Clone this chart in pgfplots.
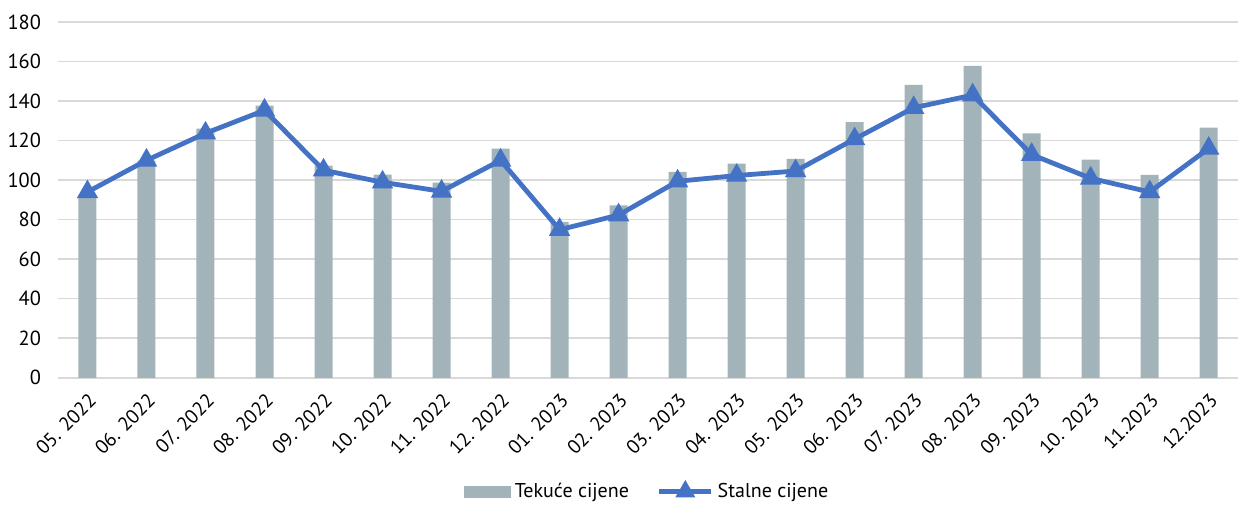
\documentclass[border=0pt]{standalone}
\usepackage{pgfplots}
\pgfplotsset{compat=1.18}
\usepackage{fontspec}
\setmainfont{PT Sans}
\definecolor{barc}{RGB}{162,180,186}
\definecolor{linec}{RGB}{68,114,196}
\definecolor{gridc}{RGB}{217,217,217}
\begin{document}
\begin{tikzpicture}
\begin{axis}[
  scale only axis, width=590.5pt, height=178pt,
  xmin=-0.5, xmax=19.5, ymin=0, ymax=180,
  ytick={0,20,...,180},
  xtick={0,...,19},
  xticklabels={05. 2022,06. 2022,07. 2022,08. 2022,09. 2022,10. 2022,11. 2022,12. 2022,01. 2023,02. 2023,03. 2023,04. 2023,05. 2023,06. 2023,07. 2023,08. 2023,09. 2023,10. 2023,11.2023,12.2023},
  x tick label style={rotate=45, anchor=north east, font=\fontsize{9.8}{11}\selectfont, inner sep=1.5pt},
  xticklabel shift=5pt,
  y tick label style={font=\fontsize{10.2}{12}\selectfont, xshift=-5pt},
  /pgf/number format/assume math mode=true,
  axis line style={draw=none},
  major tick length=0pt,
  ymajorgrids, grid style={gridc, line width=0.8pt},
  legend style={at={(0.5,-0.32)}, anchor=center, draw=none, legend columns=2, inner sep=1pt,
    font=\fontsize{10}{12}\selectfont, /tikz/every even column/.append style={column sep=12pt}},
]
\coordinate (topc) at (rel axis cs:0,1);
\coordinate (leftc) at (rel axis cs:0,0);
\addplot[ybar, bar width=9pt, fill=barc, draw=none,
  legend image code/.code={\fill[barc] (0pt,-3pt) rectangle (23.5pt,3pt);}]
  coordinates {(0,92.6) (1,109.9) (2,126.1) (3,137.7) (4,107.3) (5,102.8) (6,98.7) (7,115.9) (8,78.9) (9,87.2)
  (10,104.1) (11,108.3) (12,110.7) (13,129.3) (14,148.2) (15,157.8) (16,123.7) (17,110.4) (18,102.6) (19,126.6)};
\addlegendentry{Tekuće cijene}
\addplot[linec, line width=2.4pt, mark=triangle*, mark size=3.8pt, mark options={solid},
  legend image code/.code={\draw[linec, line width=2.4pt] (0pt,0pt) -- (26pt,0pt); \fill[linec] (13pt,0pt) +(90:3.4pt) -- +(210:3.4pt) -- +(330:3.4pt) -- cycle;}]
  coordinates {(0,94) (1,110) (2,123.7) (3,135.3) (4,105) (5,98.9) (6,94.3) (7,110) (8,74.9) (9,82.3)
  (10,99.4) (11,102.3) (12,104.6) (13,120.8) (14,136.6) (15,143) (16,112.9) (17,100.9) (18,94) (19,116)};
\addlegendentry{Stalne cijene}
\end{axis}
\path (topc) ++(0pt,11pt);
\path (leftc) ++(-29pt,0pt);
\end{tikzpicture}
\end{document}
